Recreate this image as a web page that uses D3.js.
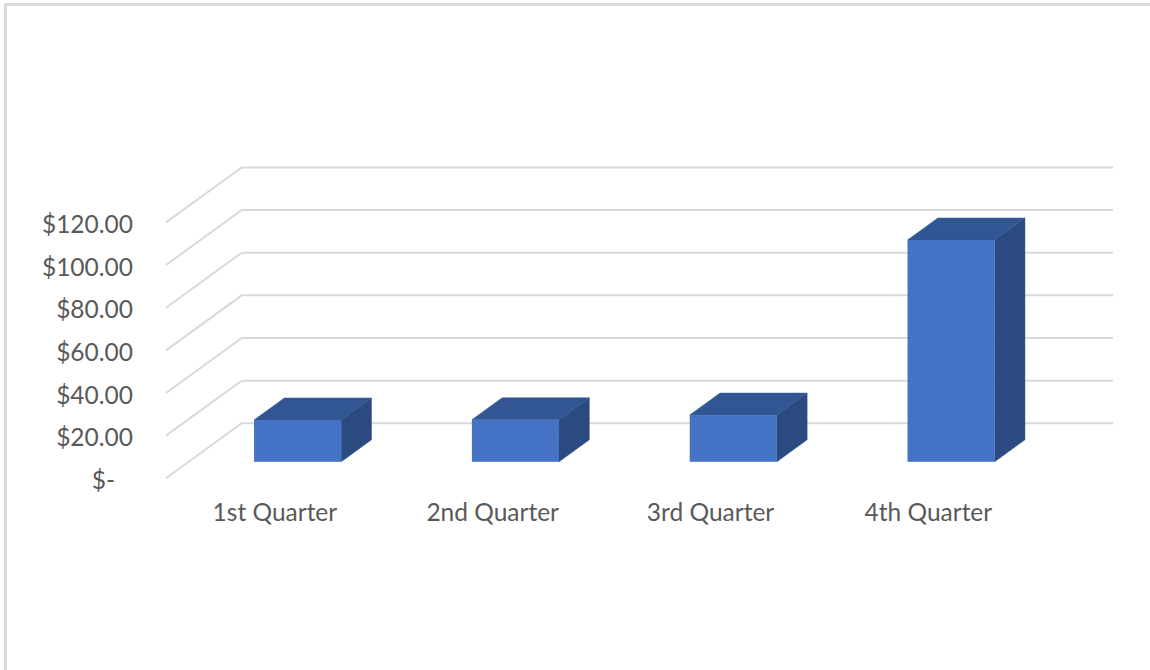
<!DOCTYPE html>
<html>
<head>
<meta charset="utf-8">
<script src="https://cdn.jsdelivr.net/npm/d3@7"></script>
<style>
  html, body { margin: 0; padding: 0; background: #ffffff; }
  svg { display: block; }
  text { font-family: Lato, "Open Sans", sans-serif; fill: #595959; }
</style>
</head>
<body>
<svg id="chart" width="1150" height="670"></svg>
<script>
// ---- data ----
const categories = ["1st Quarter", "2nd Quarter", "3rd Quarter", "4th Quarter"];
const values = [19.6, 19.7, 21.9, 104.0];
const yTicks = [0, 20, 40, 60, 80, 100, 120];

// ---- layout ----
const W = 1150, H = 670;
const svg = d3.select("#chart");

const frontLeft = 166;       // x of the front plane's left edge
const floorFrontY = 478.3;   // y of value 0 on the front plane
const depthDx = 75.7;        // screen shift for full depth
const depthDy = -55;
const backRight = 1113;      // right end of back wall
const plotW = backRight - depthDx - frontLeft;
const plotH = 255.9;

const x = d3.scaleBand().domain(categories).range([0, plotW])
  .paddingInner(0.6).paddingOuter(0.3);
const y = d3.scaleLinear().domain([0, 120]).range([0, plotH]);

// oblique projection: (x offset, value, depth 0..1) -> screen
function P(xo, v, z) {
  return [frontLeft + xo + z * depthDx, floorFrontY - y(v) + z * depthDy];
}

// frame
svg.append("rect")
  .attr("x", 5.5).attr("y", 4.5)
  .attr("width", W + 20).attr("height", H + 20)
  .attr("fill", "none").attr("stroke", "#d9d9d9").attr("stroke-width", 3);

// gridlines (side wall diagonal + back wall horizontal)
const grid = svg.append("g");
yTicks.forEach(t => {
  const a = P(0, t, 0), b = P(0, t, 1), c = P(plotW, t, 1);
  grid.append("path")
    .attr("d", d3.line()([a, b, c]))
    .attr("fill", "none")
    .attr("stroke", "#d9d9d9")
    .attr("stroke-width", 2);
});

// y labels
const fmt = d3.format("$,.2f");
svg.append("g").selectAll("text").data(yTicks).join("text")
  .attr("x", d => 133 + (d === 0 ? -18 : 0))
  .attr("y", d => P(0, d, 0)[1] + 1)
  .attr("text-anchor", "end")
  .attr("dominant-baseline", "central")
  .style("font-size", "24.5px")
  .text(d => d === 0 ? "$-" : fmt(d));

// category labels
svg.append("g").selectAll("text").data(categories).join("text")
  .attr("x", d => P(x(d) + x.bandwidth() / 2, 0, 0)[0] - 0.3 * depthDx + 0.3 * depthDx)
  .attr("x", d => frontLeft + x.step() * (categories.indexOf(d) + 0.5) + x.step() * (x.paddingOuter() - 0.3) )
  .attr("y", 521)
  .attr("text-anchor", "middle")
  .style("font-size", "24.5px")
  .text(d => d);

// bars (3D boxes)
const z0 = 0.3, z1 = 0.7;
const bars = svg.append("g");
categories.forEach((c, i) => {
  const v = values[i];
  const x0 = x(c), x1 = x(c) + x.bandwidth();
  const g = bars.append("g");
  // right face
  g.append("path")
    .attr("d", d3.line()([P(x1, 0, z0), P(x1, v, z0), P(x1, v, z1), P(x1, 0, z1)]) + "Z")
    .attr("fill", "#2a4a80").attr("stroke", "#2a4a80").attr("stroke-width", 0.5);
  // top face
  g.append("path")
    .attr("d", d3.line()([P(x0, v, z0), P(x1, v, z0), P(x1, v, z1), P(x0, v, z1)]) + "Z")
    .attr("fill", "#325693").attr("stroke", "#325693").attr("stroke-width", 0.5);
  // front face
  const tl = P(x0, v, z0), br = P(x1, 0, z0);
  g.append("rect")
    .attr("x", tl[0]).attr("y", tl[1])
    .attr("width", br[0] - tl[0]).attr("height", br[1] - tl[1])
    .attr("fill", "#4472c4");
});
</script>
</body>
</html>
